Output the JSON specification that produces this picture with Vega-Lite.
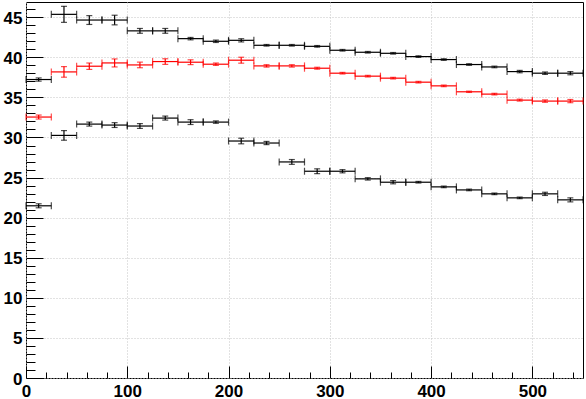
{
  "$schema": "https://vega.github.io/schema/vega-lite/v6.json",
  "width": 557,
  "height": 376,
  "autosize": {"type": "none"},
  "padding": {"left": 26, "top": 2, "right": 3, "bottom": 21},
  "background": "white",
  "config": {
    "view": {"stroke": "#000000", "strokeWidth": 1},
    "axis": {
      "labelFont": "Liberation Sans",
      "labelFontWeight": "bold",
      "labelFontSize": 17,
      "labelColor": "#000000",
      "tickColor": "#000000",
      "tickWidth": 1,
      "title": null,
      "labelFlush": false,
      "labelOverlap": false
    }
  },
  "datasets": {
    "h": [
      {"s":"A","x0":0,"x1":25,"xm":12.5,"y":37.23,"e":0.2},
      {"s":"A","x0":25,"x1":50,"xm":37.5,"y":45.36,"e":1.0},
      {"s":"A","x0":50,"x1":75,"xm":62.5,"y":44.65,"e":0.55},
      {"s":"A","x0":75,"x1":100,"xm":87.5,"y":44.65,"e":0.6},
      {"s":"A","x0":100,"x1":125,"xm":112.5,"y":43.3,"e":0.3},
      {"s":"A","x0":125,"x1":150,"xm":137.5,"y":43.3,"e":0.3},
      {"s":"A","x0":150,"x1":175,"xm":162.5,"y":42.33,"e":0.15},
      {"s":"A","x0":175,"x1":200,"xm":187.5,"y":42.0,"e":0.15},
      {"s":"A","x0":200,"x1":225,"xm":212.5,"y":42.12,"e":0.2},
      {"s":"A","x0":225,"x1":250,"xm":237.5,"y":41.5,"e":0.1},
      {"s":"A","x0":250,"x1":275,"xm":262.5,"y":41.5,"e":0.1},
      {"s":"A","x0":275,"x1":300,"xm":287.5,"y":41.37,"e":0.1},
      {"s":"A","x0":300,"x1":325,"xm":312.5,"y":40.88,"e":0.1},
      {"s":"A","x0":325,"x1":350,"xm":337.5,"y":40.63,"e":0.1},
      {"s":"A","x0":350,"x1":375,"xm":362.5,"y":40.5,"e":0.1},
      {"s":"A","x0":375,"x1":400,"xm":387.5,"y":40.09,"e":0.1},
      {"s":"A","x0":400,"x1":425,"xm":412.5,"y":39.72,"e":0.1},
      {"s":"A","x0":425,"x1":450,"xm":437.5,"y":39.1,"e":0.1},
      {"s":"A","x0":450,"x1":475,"xm":462.5,"y":38.8,"e":0.1},
      {"s":"A","x0":475,"x1":500,"xm":487.5,"y":38.22,"e":0.15},
      {"s":"A","x0":500,"x1":525,"xm":512.5,"y":38.02,"e":0.15},
      {"s":"A","x0":525,"x1":550,"xm":537.5,"y":38.02,"e":0.2},
      {"s":"B","x0":0,"x1":25,"xm":12.5,"y":32.55,"e":0.25},
      {"s":"B","x0":25,"x1":50,"xm":37.5,"y":38.18,"e":0.66},
      {"s":"B","x0":50,"x1":75,"xm":62.5,"y":38.89,"e":0.4},
      {"s":"B","x0":75,"x1":100,"xm":87.5,"y":39.3,"e":0.5},
      {"s":"B","x0":100,"x1":125,"xm":112.5,"y":39.05,"e":0.35},
      {"s":"B","x0":125,"x1":150,"xm":137.5,"y":39.47,"e":0.35},
      {"s":"B","x0":150,"x1":175,"xm":162.5,"y":39.39,"e":0.3},
      {"s":"B","x0":175,"x1":200,"xm":187.5,"y":39.14,"e":0.15},
      {"s":"B","x0":200,"x1":225,"xm":212.5,"y":39.64,"e":0.37},
      {"s":"B","x0":225,"x1":250,"xm":237.5,"y":38.93,"e":0.15},
      {"s":"B","x0":250,"x1":275,"xm":262.5,"y":38.93,"e":0.15},
      {"s":"B","x0":275,"x1":300,"xm":287.5,"y":38.64,"e":0.12},
      {"s":"B","x0":300,"x1":325,"xm":312.5,"y":38.02,"e":0.1},
      {"s":"B","x0":325,"x1":350,"xm":337.5,"y":37.65,"e":0.1},
      {"s":"B","x0":350,"x1":375,"xm":362.5,"y":37.4,"e":0.1},
      {"s":"B","x0":375,"x1":400,"xm":387.5,"y":36.9,"e":0.1},
      {"s":"B","x0":400,"x1":425,"xm":412.5,"y":36.44,"e":0.1},
      {"s":"B","x0":425,"x1":450,"xm":437.5,"y":35.7,"e":0.08},
      {"s":"B","x0":450,"x1":475,"xm":462.5,"y":35.41,"e":0.1},
      {"s":"B","x0":475,"x1":500,"xm":487.5,"y":34.66,"e":0.12},
      {"s":"B","x0":500,"x1":525,"xm":512.5,"y":34.54,"e":0.15},
      {"s":"B","x0":525,"x1":550,"xm":537.5,"y":34.54,"e":0.2},
      {"s":"C","x0":0,"x1":25,"xm":12.5,"y":21.48,"e":0.25},
      {"s":"C","x0":25,"x1":50,"xm":37.5,"y":30.26,"e":0.6},
      {"s":"C","x0":50,"x1":75,"xm":62.5,"y":31.67,"e":0.25},
      {"s":"C","x0":75,"x1":100,"xm":87.5,"y":31.55,"e":0.3},
      {"s":"C","x0":100,"x1":125,"xm":112.5,"y":31.43,"e":0.3},
      {"s":"C","x0":125,"x1":150,"xm":137.5,"y":32.42,"e":0.25},
      {"s":"C","x0":150,"x1":175,"xm":162.5,"y":31.92,"e":0.3},
      {"s":"C","x0":175,"x1":200,"xm":187.5,"y":31.92,"e":0.15},
      {"s":"C","x0":200,"x1":225,"xm":212.5,"y":29.56,"e":0.35},
      {"s":"C","x0":225,"x1":250,"xm":237.5,"y":29.31,"e":0.2},
      {"s":"C","x0":250,"x1":275,"xm":262.5,"y":26.95,"e":0.3},
      {"s":"C","x0":275,"x1":300,"xm":287.5,"y":25.79,"e":0.3},
      {"s":"C","x0":300,"x1":325,"xm":312.5,"y":25.79,"e":0.2},
      {"s":"C","x0":325,"x1":350,"xm":337.5,"y":24.84,"e":0.15},
      {"s":"C","x0":350,"x1":375,"xm":362.5,"y":24.42,"e":0.2},
      {"s":"C","x0":375,"x1":400,"xm":387.5,"y":24.42,"e":0.1},
      {"s":"C","x0":400,"x1":425,"xm":412.5,"y":23.84,"e":0.1},
      {"s":"C","x0":425,"x1":450,"xm":437.5,"y":23.46,"e":0.1},
      {"s":"C","x0":450,"x1":475,"xm":462.5,"y":22.97,"e":0.1},
      {"s":"C","x0":475,"x1":500,"xm":487.5,"y":22.47,"e":0.1},
      {"s":"C","x0":500,"x1":525,"xm":512.5,"y":22.97,"e":0.2},
      {"s":"C","x0":525,"x1":550,"xm":537.5,"y":22.22,"e":0.25}
    ]
  },
  "data": {"name": "h"},
  "resolve": {"axis": {"x": "independent", "y": "independent"}},
  "layer": [
    {
      "mark": {"type": "rule", "strokeWidth": 1.2},
      "encoding": {
        "x": {"field": "x0", "type": "quantitative",
              "scale": {"domain": [0, 550], "nice": false, "zero": false},
              "axis": {"orient": "bottom", "values": [0,100,200,300,400,500], "ticks": false, "domain": false,
                       "grid": true, "gridColor": "#c4c4c4", "gridDash": [1,2], "gridWidth": 1,
                       "labelPadding": 5, "format": "d"}},
        "x2": {"field": "x1"},
        "y": {"field": "y", "type": "quantitative",
              "scale": {"domain": [0, 46.9], "nice": false, "zero": false},
              "axis": {"orient": "left", "values": [0,5,10,15,20,25,30,35,40,45], "ticks": false, "domain": false,
                       "grid": true, "gridColor": "#c4c4c4", "gridDash": [1,2], "gridWidth": 1,
                       "labelPadding": 4, "labelOffset": 1, "format": "d"}},
        "color": {"field": "s", "type": "nominal",
                  "scale": {"domain": ["A","B","C"], "range": ["#000000","#ff0000","#000000"]},
                  "legend": null}
      }
    },
    {
      "mark": {"type": "errorbar", "ticks": {"size": 6, "thickness": 1.2}, "thickness": 1.2},
      "encoding": {
        "x": {"field": "xm", "type": "quantitative", "axis": null},
        "y": {"field": "y", "type": "quantitative", "axis": null},
        "yError": {"field": "e"},
        "color": {"field": "s", "type": "nominal", "legend": null}
      }
    },
    {
      "mark": {"type": "tick", "orient": "vertical", "size": 7, "thickness": 1.2},
      "encoding": {
        "x": {"field": "x0", "type": "quantitative",
              "axis": {"orient": "bottom", "values": [0,100,200,300,400,500], "labels": false, "domain": false, "grid": false,
                       "ticks": true, "tickSize": 12, "offset": -12}},
        "y": {"field": "y", "type": "quantitative",
              "axis": {"orient": "left", "values": [0,5,10,15,20,25,30,35,40,45], "labels": false, "domain": false, "grid": false,
                       "ticks": true, "tickSize": 17, "offset": -17}},
        "color": {"field": "s", "type": "nominal", "legend": null}
      }
    },
    {
      "mark": {"type": "tick", "orient": "vertical", "size": 7, "thickness": 1.2},
      "encoding": {
        "x": {"field": "x1", "type": "quantitative",
              "axis": {"orient": "bottom", "values": [20,40,60,80,120,140,160,180,220,240,260,280,320,340,360,380,420,440,460,480,520,540],
                       "labels": false, "domain": false, "grid": false, "ticks": true, "tickSize": 6, "offset": -6}},
        "y": {"field": "y", "type": "quantitative",
              "axis": {"orient": "left", "values": [1,2,3,4,6,7,8,9,11,12,13,14,16,17,18,19,21,22,23,24,26,27,28,29,31,32,33,34,36,37,38,39,41,42,43,44,46],
                       "labels": false, "domain": false, "grid": false, "ticks": true, "tickSize": 9, "offset": -9}},
        "color": {"field": "s", "type": "nominal", "legend": null}
      }
    }
  ]
}
